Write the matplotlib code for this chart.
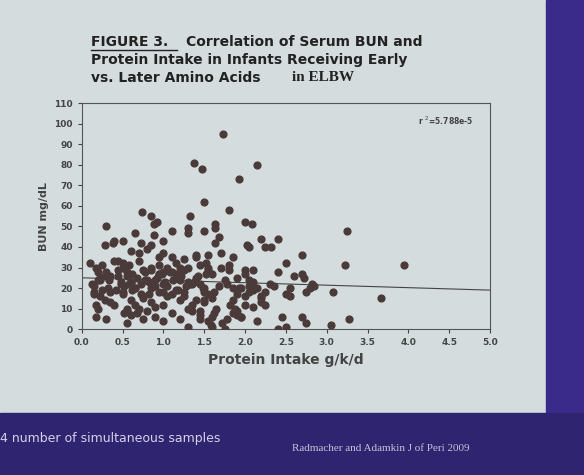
import matplotlib.pyplot as plt

# points (protein intake g/k/d, BUN mg/dL)
intake = [
    1.73, 1.38, 1.47, 2.15, 1.93, 1.50, 1.80, 0.30, 0.74, 0.85, 0.88, 0.92, 1.33, 1.10, 1.30, 1.30,
    1.50, 1.63, 1.63, 1.68, 1.63, 2.00, 2.08, 2.20, 2.25, 2.32, 2.40, 2.02, 2.05, 2.70, 2.50, 3.25,
    3.22, 3.95, 3.67, 3.08, 3.05, 3.27, 2.40, 2.45, 2.50, 2.70, 2.75, 2.75, 2.80, 2.85, 2.82, 2.60,
    2.70, 2.72, 2.55, 2.50, 2.55, 2.40, 2.30, 2.35, 2.25, 2.20, 2.25, 2.20, 2.15, 2.10, 2.00, 2.10,
    2.10, 2.05, 0.28, 0.38, 0.40, 0.50, 0.45, 0.50, 0.50, 0.55, 0.60, 0.65, 0.70, 0.72, 0.80, 0.85,
    0.88, 0.95, 1.00, 1.00,
    0.10, 0.12, 0.15, 0.18, 0.20, 0.22, 0.25, 0.15, 0.18, 0.20, 0.22, 0.25, 0.30, 0.32, 0.35, 0.18,
    0.20, 0.28, 0.35, 0.40, 0.45, 0.48, 0.50, 0.52, 0.55, 0.58, 0.60, 0.45, 0.50, 0.55, 0.60, 0.65,
    0.55, 0.60, 0.65, 0.70, 0.75, 0.55, 0.62, 0.68, 0.72, 0.78, 0.82, 0.70, 0.75, 0.80, 0.85, 0.90,
    0.95, 0.75, 0.80, 0.85, 0.90, 0.95, 1.00, 0.85, 0.90, 0.95, 1.00, 1.05, 0.90, 1.00, 1.05, 1.10,
    1.15, 1.20, 1.00, 1.05, 1.10, 1.15, 1.20, 1.25, 1.10, 1.15, 1.20, 1.25, 1.30, 1.35, 1.20, 1.25,
    1.30, 1.35, 1.40, 1.45, 1.30, 1.35, 1.40, 1.45, 1.50, 1.55, 1.40, 1.45, 1.50, 1.55, 1.60, 1.45,
    1.50, 1.55, 1.60, 1.65, 1.50, 1.55, 1.60, 1.52, 1.58, 1.62, 1.70, 1.75, 1.80, 1.85, 1.90, 1.72,
    1.78, 1.82, 1.88, 1.95, 1.80, 1.85, 1.90, 1.95, 2.00, 1.85, 1.90, 1.95, 2.00, 2.05, 1.90, 2.00,
    2.05, 2.10, 2.15, 2.20, 0.60, 0.75, 0.95, 1.10, 1.25, 1.40, 1.55, 1.70, 1.85, 1.30, 1.15, 1.00,
    0.85, 0.65, 0.40, 0.30, 1.60, 1.75, 1.45, 1.20,
    0.22, 0.35, 0.48, 0.62, 0.78, 0.92, 1.08, 1.22, 1.38, 1.52, 1.68, 0.28, 0.42, 0.58, 0.72, 0.88,
    1.02, 1.18, 1.32, 1.48, 1.62, 1.78, 1.92, 0.15, 0.33, 0.52, 0.68, 0.82, 0.98, 1.12, 1.28, 1.42,
]
bun = [
    95, 81, 78, 80, 73, 62, 58, 50, 57, 55, 51, 52, 55, 48, 47, 49,
    48, 51, 49, 45, 42, 52, 51, 44, 40, 40, 44, 41, 40, 36, 32, 48,
    31, 31, 15, 18, 2, 5, 0, 6, 1, 6, 3, 18, 20, 21, 22, 26,
    27, 25, 20, 17, 16, 28, 22, 21, 18, 16, 12, 13, 20, 19, 27, 29,
    23, 21, 41, 42, 43, 43, 33, 32, 30, 28, 38, 47, 37, 42, 39, 41,
    46, 35, 43, 37,
    32, 22, 21, 30, 28, 25, 31, 18, 12, 10, 16, 19, 28, 20, 18, 6,
    24, 14, 13, 33, 26, 22, 18, 8, 9, 31, 23, 29, 17, 10, 7, 20,
    3, 14, 12, 33, 29, 26, 19, 8, 22, 28, 17, 10, 5, 24, 30, 21,
    27, 15, 9, 20, 24, 31, 18, 13, 6, 27, 22, 16, 11, 4, 30, 28,
    32, 30, 12, 21, 17, 25, 14, 29, 8, 19, 24, 16, 10, 9, 26, 18,
    30, 22, 14, 5, 1, 12, 35, 22, 18, 29, 25, 31, 20, 30, 15, 7,
    13, 17, 27, 10, 14, 4, 6, 32, 2, 8, 30, 24, 29, 20, 17, 3,
    5, 12, 10, 6, 31, 14, 25, 20, 16, 8, 9, 6, 12, 18, 7, 29,
    24, 11, 4, 15, 23, 16, 18, 35, 34, 36, 36, 37, 35, 23, 27, 28,
    29, 20, 12, 5, 1, 0, 9, 5, 24,
    26, 23, 27, 24, 25, 28, 26, 23, 27, 21, 26, 19, 22, 17, 21, 23,
    19, 22, 20, 18, 22, 20, 17, 24, 21, 25, 23, 27, 24, 21, 26, 28,
]
fit_x = [0.0, 5.0]
fit_y = [25.0, 19.0]

slide = '#d5dcdd'
fig = plt.figure(figsize=(5.84, 4.75), dpi=100, facecolor=slide)
# dark purple border and bottom band of the projected slide
fig.patches.append(plt.Rectangle((0.935, 0), 0.07, 1, transform=fig.transFigure, color='#3a2a8a', zorder=0))
fig.patches.append(plt.Rectangle((0, 0), 1, 0.13, transform=fig.transFigure, color='#2e2470', zorder=0))

ax = fig.add_axes([0.140, 0.307, 0.699, 0.476], facecolor=slide)
n = min(len(intake), len(bun))
ax.scatter(intake[:n], bun[:n], s=24, color='#4a3b3a', zorder=3)
ax.plot(fit_x, fit_y, color='#444444', lw=0.8)
ax.set_xlim(0, 5)
ax.set_ylim(0, 110)
ax.set_xticks([0, 0.5, 1, 1.5, 2, 2.5, 3, 3.5, 4, 4.5, 5])
ax.set_xticklabels(['0.0', '0.5', '1.0', '1.5', '2.0', '2.5', '3.0', '3.5', '4.0', '4.5', '5.0'])
ax.set_yticks(range(0, 111, 10))
ax.tick_params(labelsize=6.5, colors='#444444', length=3)
for lab in ax.get_xticklabels() + ax.get_yticklabels():
    lab.set_fontweight('bold')
ax.set_xlabel('Protein Intake g/k/d', fontsize=10, fontweight='bold', color='#444444')
ax.set_ylabel('BUN mg/dL', fontsize=8, fontweight='bold', color='#444444')
for s in ax.spines.values():
    s.set_color('#555555')
ax.text(0.96, 0.95, 'r $^2$=5.788e-5', transform=ax.transAxes, ha='right', va='top',
        fontsize=5.5, fontweight='bold', color='#444444')

tkw = dict(fontsize=10, fontweight='bold', color='#222222', ha='left', va='center')
fig.text(0.155, 0.912, 'FIGURE 3.', **tkw)
fig.text(0.318, 0.912, 'Correlation of Serum BUN and', **tkw)
fig.text(0.155, 0.874, 'Protein Intake in Infants Receiving Early', **tkw)
fig.text(0.155, 0.836, 'vs. Later Amino Acids', **tkw)
fig.text(0.50, 0.836, 'in ELBW', fontsize=11, fontweight='bold', family='Liberation Serif',
         color='#222222', ha='left', va='center')
fig.add_artist(plt.Line2D([0.155, 0.303], [0.895, 0.895], color='#222222', lw=1))

fig.text(0.0, 0.077, '4 number of simultaneous samples', fontsize=9, color='#d8d0e8', ha='left', va='center')
fig.text(0.5, 0.055, 'Radmacher and Adamkin J of Peri 2009', fontsize=8, family='Liberation Serif',
         color='#c8c0d8', ha='left', va='center')

fig.savefig('out.png', dpi=100, facecolor=fig.get_facecolor())
